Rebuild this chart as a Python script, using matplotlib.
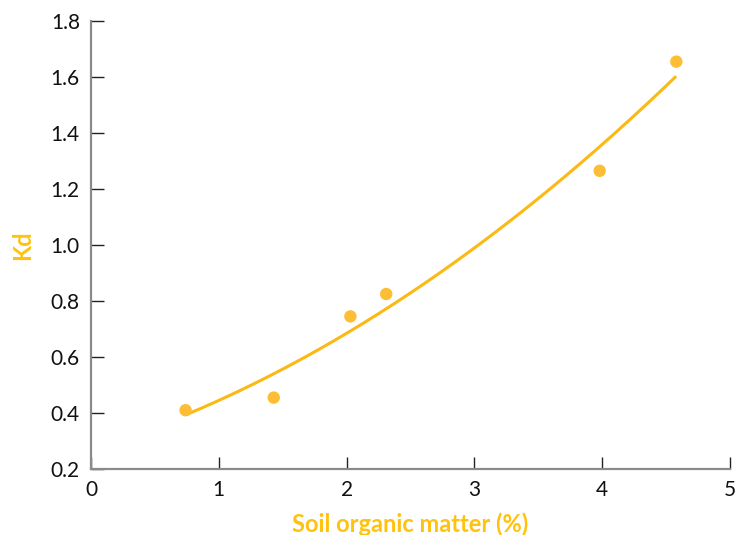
import numpy as np
import matplotlib
matplotlib.use("Agg")
import matplotlib.pyplot as plt

plt.rcParams['font.family'] = ['Lato', 'DejaVu Sans']

# Data
soil_om = [0.74, 1.43, 2.03, 2.31, 3.98, 4.58]
kd = [0.41, 0.455, 0.745, 0.825, 1.265, 1.655]

# Fitted trend curve (quadratic, coefficients)
fit_coef = [0.0325, 0.1423, 0.270]
fit_range = [0.76, 4.57]

x_ticks = [0, 1, 2, 3, 4, 5]
y_ticks = [0.2, 0.4, 0.6, 0.8, 1.0, 1.2, 1.4, 1.6, 1.8]

point_color = '#FDBE35'
line_color = '#FDB913'
label_color = '#FFC20E'

fig = plt.figure(figsize=(7.45, 5.35), dpi=100)
ax = fig.add_axes([0.1221, 0.1234, 0.8578, 0.8373])

xf = np.linspace(fit_range[0], fit_range[1], 200)
ax.plot(xf, np.polyval(fit_coef, xf), color=line_color, lw=2.2, zorder=2)
ax.scatter(soil_om, kd, s=80, color=point_color, edgecolors='none', zorder=3)

ax.set_xlim(0, 5)
ax.set_ylim(0.2, 1.8)
ax.set_xticks(x_ticks)
ax.set_yticks(y_ticks)
ax.set_xticklabels([str(v) for v in x_ticks])
ax.set_yticklabels([f"{v:.1f}" for v in y_ticks])

for s in ['top', 'right']:
    ax.spines[s].set_visible(False)
for s in ['left', 'bottom']:
    ax.spines[s].set_color('#8a8a8a')
    ax.spines[s].set_linewidth(1.6)

ax.tick_params(axis='both', direction='in', length=9, width=1.0, color='#222222',
               labelsize=15, labelcolor='#111111', pad=8)

ax.set_xlabel('Soil organic matter (%)', color=label_color, fontsize=17,
              fontweight='bold', labelpad=9)
ax.set_ylabel('Kd', color=label_color, fontsize=17, fontweight='bold', labelpad=12)

fig.savefig('out.png', dpi=100)
